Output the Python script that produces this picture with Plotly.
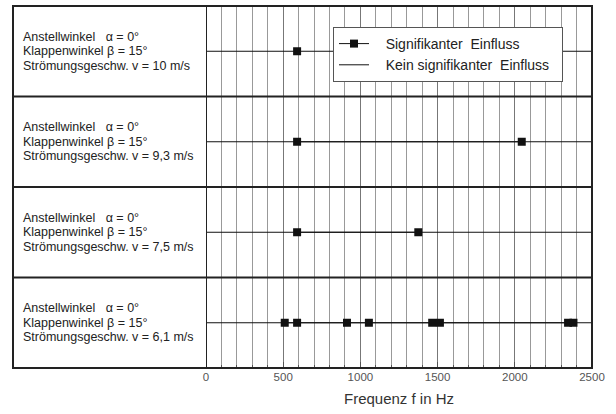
import plotly.graph_objects as go

# Data
rows_y = [3.5, 2.5, 1.5, 0.5]
row_labels = [
    ["Anstellwinkel\u00a0\u00a0\u00a0α = 0°", "Klappenwinkel β = 15°", "Strömungsgeschw. v = 10 m/s"],
    ["Anstellwinkel\u00a0\u00a0\u00a0α = 0°", "Klappenwinkel β = 15°", "Strömungsgeschw. v = 9,3 m/s"],
    ["Anstellwinkel\u00a0\u00a0\u00a0α = 0°", "Klappenwinkel β = 15°", "Strömungsgeschw. v = 7,5 m/s"],
    ["Anstellwinkel\u00a0\u00a0\u00a0α = 0°", "Klappenwinkel β = 15°", "Strömungsgeschw. v = 6,1 m/s"],
]
sig_freqs = [
    [590],
    [590, 2045],
    [590, 1375],
    [510, 590, 913, 1055, 1465, 1515, 2345, 2380],
]
f_min, f_max = 0, 2500
tick_vals = [0, 500, 1000, 1500, 2000, 2500]

FONT = "Liberation Sans, Arial"
fig = go.Figure()

for i, (yc, fr) in enumerate(zip(rows_y, sig_freqs)):
    fig.add_trace(go.Scatter(
        x=fr, y=[yc] * len(fr), mode="lines+markers",
        line=dict(color="#111", width=1),
        marker=dict(symbol="square", size=8, color="#111"),
        name="\u00a0\u00a0\u00a0Signifikanter\u00a0 Einfluss", showlegend=(i == 0), legendrank=1,
    ))
for i, yc in enumerate(rows_y):
    fig.add_trace(go.Scatter(
        x=[f_min, f_max], y=[yc, yc], mode="lines",
        line=dict(color="#111", width=1),
        name="\u00a0\u00a0\u00a0Kein signifikanter\u00a0 Einfluss\u00a0\u00a0", showlegend=(i == 0), legendrank=2,
    ))

annotations = []
for yc, lab in zip(rows_y, row_labels):
    for j, line in enumerate(lab):
        annotations.append(dict(
            x=0.014, xref="paper", y=yc + 0.16 * (1 - j), yref="y",
            xanchor="left", yanchor="middle",
            text=line, align="left", showarrow=False,
            font=dict(family=FONT, size=12.5, color="#222"),
        ))

shapes = []
shapes.append(dict(type="rect", xref="paper", yref="paper", x0=0, x1=1, y0=0, y1=1,
                   line=dict(color="#222", width=2)))
for yv in [1, 2, 3]:
    shapes.append(dict(type="line", xref="paper", yref="y", x0=0, x1=1, y0=yv, y1=yv,
                       line=dict(color="#222", width=2)))
shapes.append(dict(type="line", xref="x", yref="paper", x0=0, x1=0, y0=0, y1=1,
                   line=dict(color="#222", width=2)))

dom0 = (206 - 13) / (592 - 13)
fig.update_layout(
    width=616, height=414,
    margin=dict(l=13, r=24, t=6, b=46),
    paper_bgcolor="white", plot_bgcolor="white",
    showlegend=True,
    legend=dict(x=(333 - 13) / 579, y=(368 - 27) / 362, xanchor="left", yanchor="top",
                bgcolor="white", bordercolor="#555", borderwidth=1,
                font=dict(family=FONT, size=14, color="#222"),
                tracegroupgap=0, itemwidth=30),
    xaxis=dict(domain=[dom0, 1], range=[f_min, f_max], tickvals=tick_vals,
               showgrid=True, gridcolor="#777", gridwidth=1,
               minor=dict(dtick=100, showgrid=True, gridcolor="#999", gridwidth=1,
                          ticks="inside", ticklen=3, tickcolor="#555"),
               ticks="inside", ticklen=6, tickcolor="#555", zeroline=False,
               tickfont=dict(family=FONT, size=11.5, color="#555"),
               title=dict(text="Frequenz f in Hz", standoff=11,
                          font=dict(family=FONT, size=15, color="#333"))),
    yaxis=dict(range=[0, 4], showticklabels=False, showgrid=False, zeroline=False, ticks=""),
    annotations=annotations, shapes=shapes,
)

fig.write_html("out.html", config={"displayModeBar": False},
               post_script="document.body.style.margin='0px';")
